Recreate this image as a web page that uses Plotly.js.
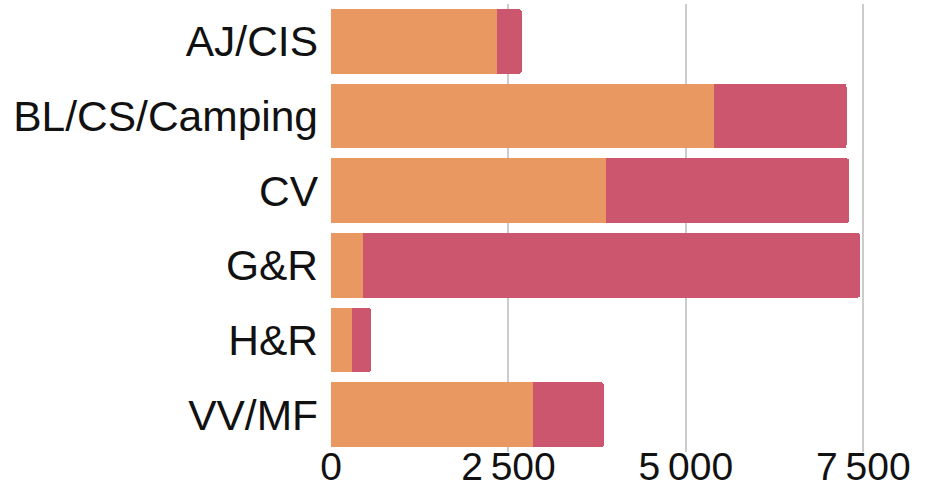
<!DOCTYPE html>
<html><head><meta charset="utf-8">
<script src="https://cdn.plot.ly/plotly-3.0.1.min.js"></script>
<style>html,body{margin:0;padding:0;background:#fff}#chart{width:933px;height:490px}</style>
</head><body><div id="chart"></div>
<script>
var categories = ["AJ/CIS", "BL/CS/Camping", "CV", "G&R", "H&R", "VV/MF"];
var seriesA = [2340, 5390, 3880, 450, 300, 2850];
var seriesB = [350, 1875, 3425, 7010, 265, 1000];
var tickVals = [0, 2500, 5000, 7500];

var data = [
  {type: "bar", orientation: "h", y: categories, x: seriesA, name: "A",
   marker: {color: "#E99862"}, hoverinfo: "x+y"},
  {type: "bar", orientation: "h", y: categories, x: seriesB, name: "B",
   marker: {color: "#CB566D"}, hoverinfo: "x+y"}
];
var layout = {
  width: 933, height: 490,
  margin: {l: 331, r: 20, t: 4, b: 38, pad: 0},
  barmode: "stack", bargap: 0.13, barcornerradius: 4,
  showlegend: false,
  paper_bgcolor: "#fff", plot_bgcolor: "#fff",
  font: {family: "Liberation Sans, Arial, sans-serif", size: 40, color: "#111"},
  separators: ".\u2009",
  xaxis: {range: [0, 8200], tickvals: tickVals, tickformat: ",d",
          showgrid: true, gridcolor: "#cccccc", gridwidth: 2,
          zeroline: false, showline: false, ticks: "", ticklabelstandoff: -12,
          tickfont: {size: 39}},
  yaxis: {categoryorder: "array", categoryarray: categories, autorange: "reversed",
          showgrid: false, zeroline: false, showline: false, ticks: "",
          ticklabelstandoff: 12, tickfont: {size: 42.5}}
};
Plotly.newPlot("chart", data, layout, {displayModeBar: false, staticPlot: true});
</script></body></html>
